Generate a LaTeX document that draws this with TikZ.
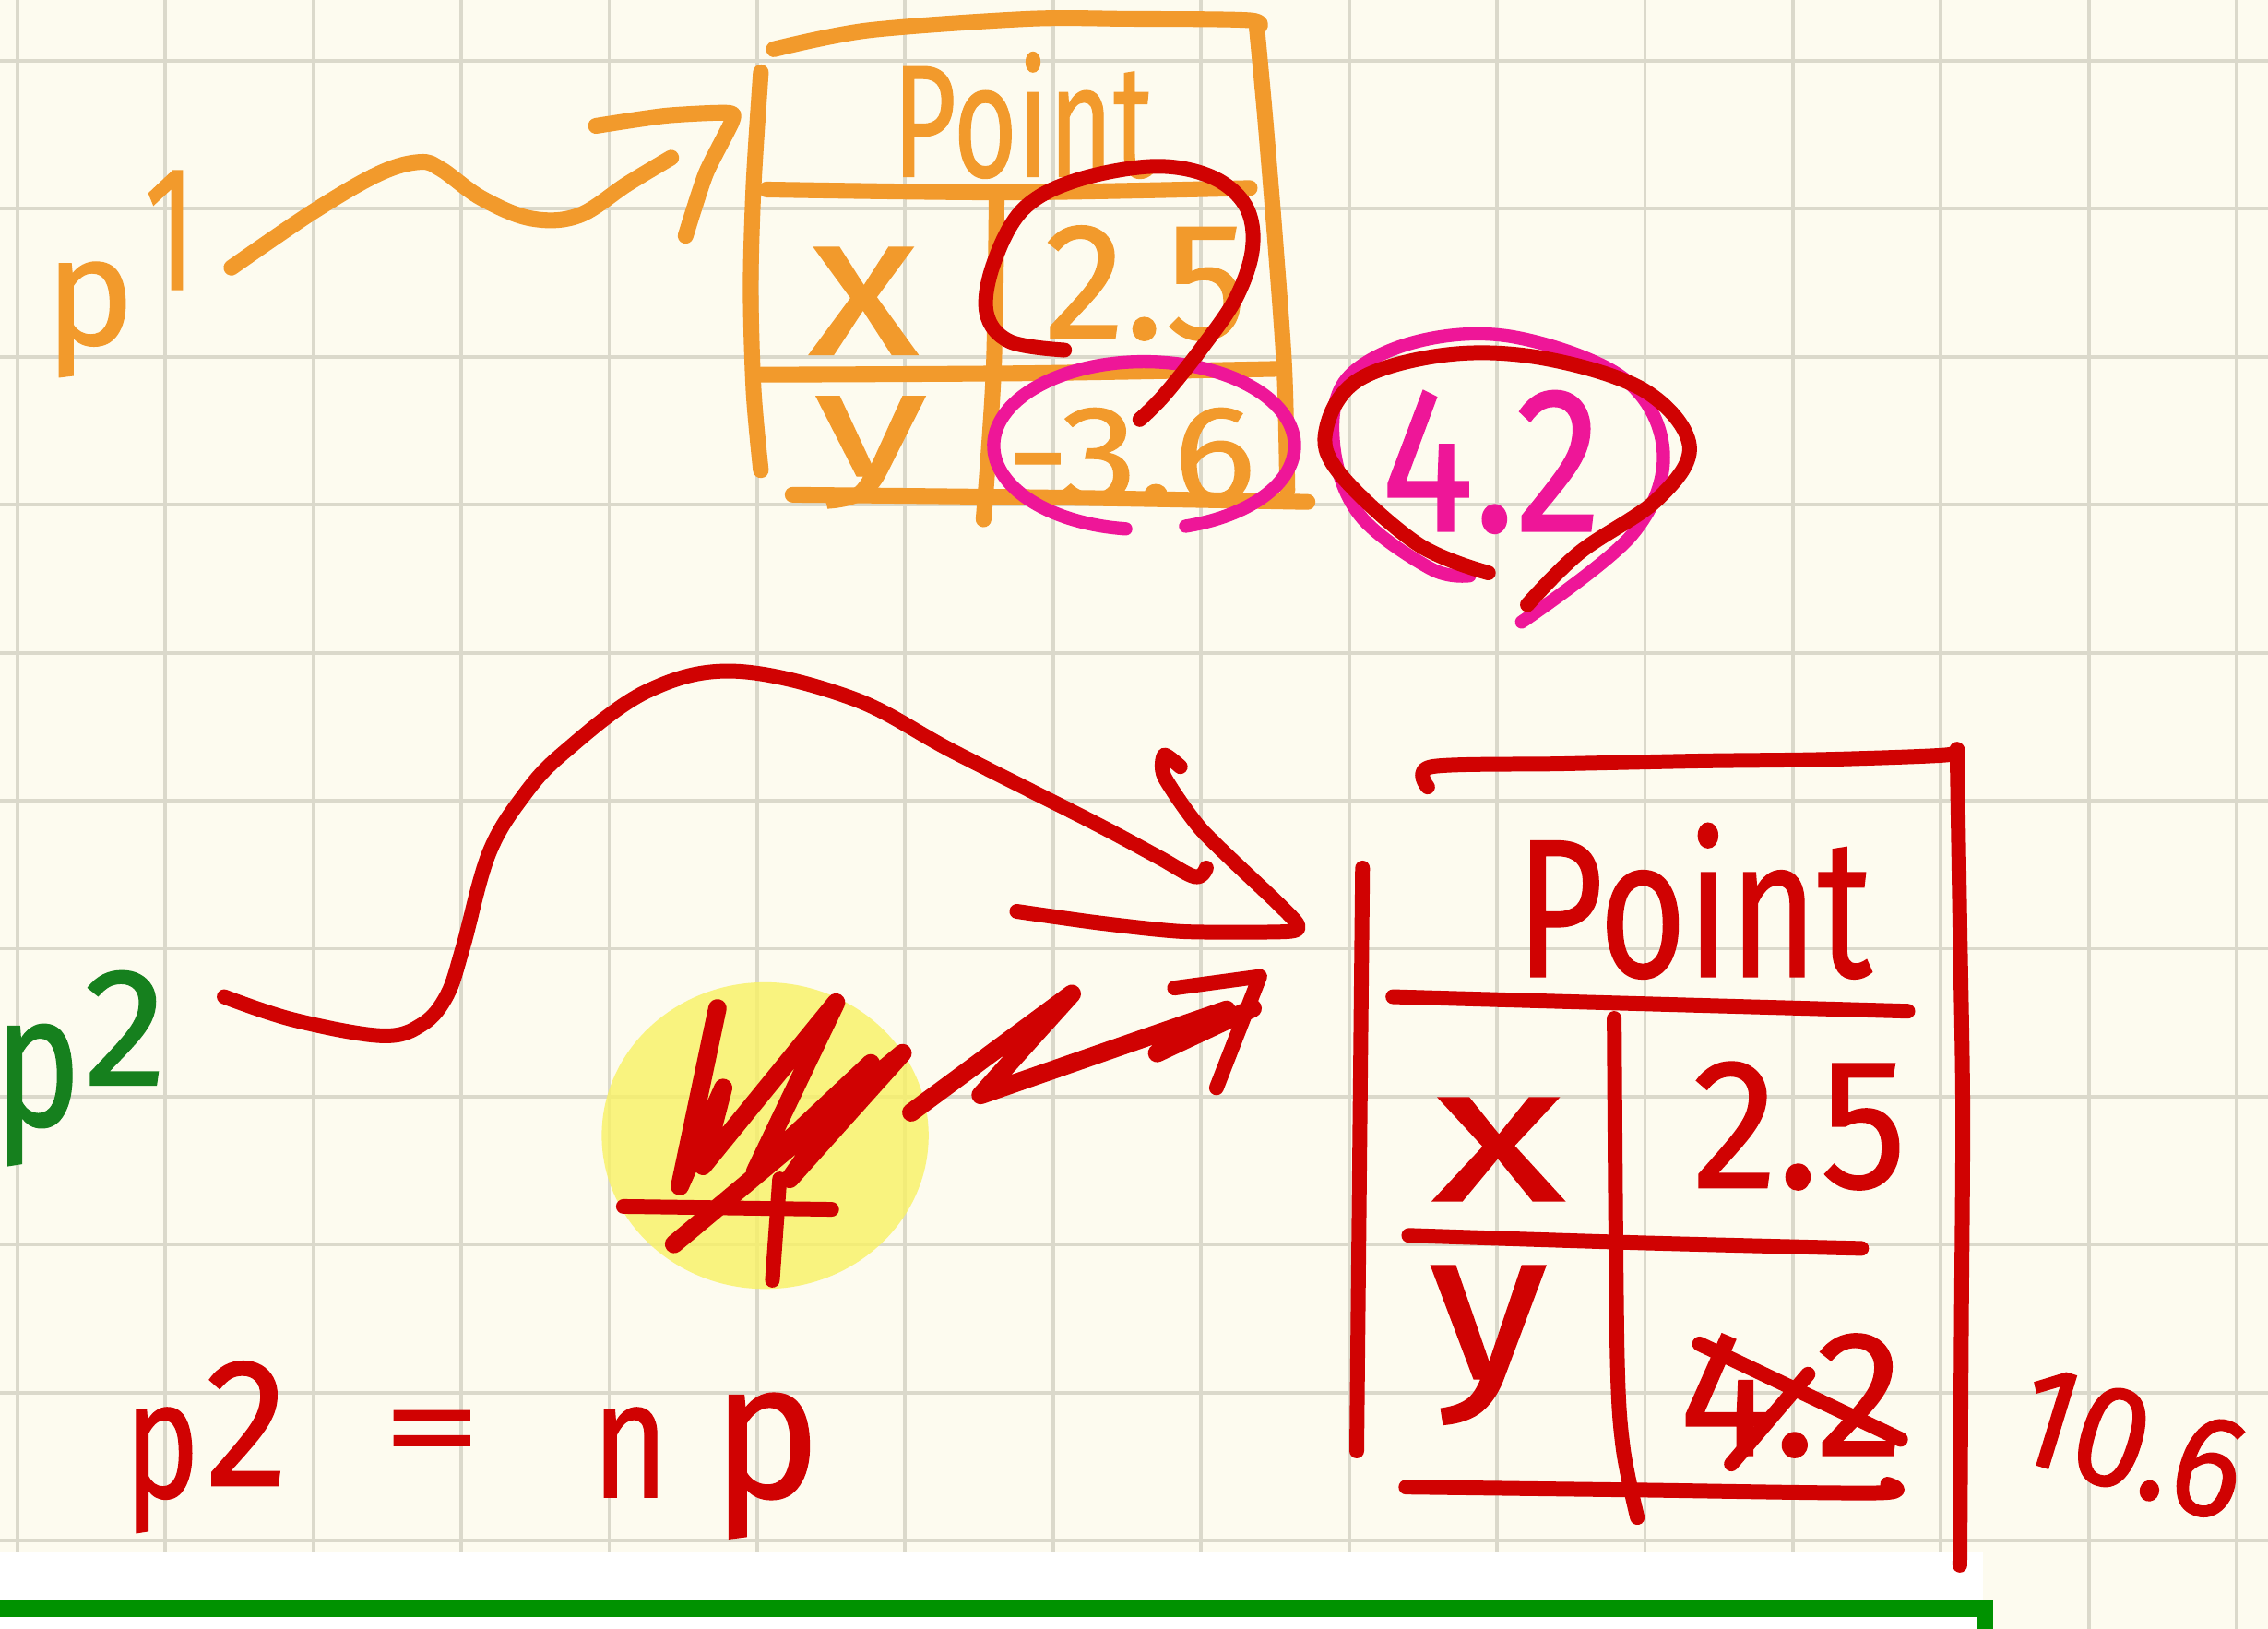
\documentclass[tikz,border=0pt]{standalone}
\usepackage{fontspec}
\setmainfont{Fira Sans}[FakeBold=0.8]
\usepackage{graphicx}
\definecolor{paper}{RGB}{253,251,239}
\definecolor{gridline}{RGB}{219,217,203}
\definecolor{inkorange}{RGB}{242,154,44}
\definecolor{inkred}{RGB}{208,2,2}
\definecolor{inkpink}{RGB}{238,22,152}
\definecolor{inkgreen}{RGB}{22,128,30}
\definecolor{rulegreen}{RGB}{0,146,0}
\definecolor{marker}{RGB}{248,241,100}
\begin{document}
\begin{tikzpicture}[x=0.01cm,y=-0.01cm,
  pen/.style={line cap=round,line join=round},
  orangepen/.style={pen,draw=inkorange,line width=3.1pt},
  redpen/.style={pen,draw=inkred,line width=2.9pt},
  pinkpen/.style={pen,draw=inkpink,line width=2.6pt},
  hand/.style={inner sep=0pt,outer sep=0pt,anchor=north west},
  gridpen/.style={draw=gridline,line width=0.7pt}]
\useasboundingbox (0,0) rectangle (1568,1126);

% paper and squared grid
\fill[paper] (0,0) rectangle (1568,1126);
\foreach \k in {0,...,15} \draw[gridpen] ({12+102.3*\k},0) -- ({12+102.3*\k},1126);
\foreach \k in {0,...,10} \draw[gridpen] (0,{42+102.3*\k}) -- (1568,{42+102.3*\k});

% white strip with the green rule at the bottom
\fill[white] (0,1073) rectangle (1371,1126);
\draw[rulegreen,line width=3.3pt] (0,1112) -- (1372,1112) -- (1372,1130);

% yellow highlighter blob
\fill[marker,opacity=0.8] (529,785) ellipse [x radius=113,y radius=106];

% ---------- first object (orange) ----------
\node[hand,text=inkorange] (p1) at (31,118)
  {\resizebox{0.62cm}{0.57cm}{p}\hspace{0.07cm}\raisebox{0.38cm}{\resizebox{0.35cm}{0.82cm}{1}}};
\coordinate (p1tail) at (160,185);
\coordinate (p1head) at (503,78);
\draw[orangepen] plot[smooth,tension=0.6] coordinates
  {(p1tail) (217,146) (262,120) (290,112) (305,117) (333,137) (367,151) (400,149) (434,127) (464,109)};
\draw[orangepen] plot[smooth,tension=0.4] coordinates
  {(412,87) (460,80) (p1head) (506,84) (488,120) (474,163)};

% box outline
\draw[orangepen] plot[smooth,tension=0.5] coordinates {(535,34) (600,21) (711,13) (779,13) (864,14) (869,20)};
\draw[orangepen] plot[smooth,tension=0.5] coordinates {(869,20) (875,85) (882,171) (888,256) (890,339)};
\draw[orangepen] plot[smooth,tension=0.5] coordinates {(526,50) (521,128) (519,199) (521,270) (526,325)};
\draw[orangepen] plot[smooth,tension=0.5] coordinates {(530,131) (700,133) (864,130)};
\draw[orangepen] plot[smooth,tension=0.5] coordinates {(689,137) (687,256) (680,359)};
\draw[orangepen] plot[smooth,tension=0.5] coordinates {(526,259) (711,258) (882,255)};
\draw[orangepen] plot[smooth,tension=0.5] coordinates {(548,342) (734,344) (904,347)};

\node[hand,text=inkorange] (titleA) at (617,36) {\resizebox{1.80cm}{0.86cm}{Point}};
\node[hand,text=inkorange] (xA) at (559,171) {\resizebox{0.76cm}{0.74cm}{x}};
\node[hand,text=inkorange] (xvalA) at (722,156) {\resizebox{1.40cm}{0.78cm}{2.5}};
\node[hand,text=inkorange] (yA) at (563,274) {\resizebox{0.78cm}{0.55cm}{y}};
\node[hand,text=inkorange] (yvalA) at (696,282) {\resizebox{1.72cm}{0.65cm}{-3.6}};

% pink marks: ring round -3.6, new value 4.2 with its ring
\draw[pinkpen] (791,308) ++(97:104 and 58) arc[start angle=97,end angle=434,x radius=104,y radius=58];
\node[hand,text=inkpink] (newy) at (955,270) {\resizebox{1.52cm}{0.97cm}{4.2}};
\draw[pinkpen] plot[smooth,tension=0.6] coordinates
  {(1052,430) (1128,370) (1150,313) (1123,262) (1047,233) (980,236) (931,262) (922,307) (940,356) (989,393) (1016,398)};

% red loops round 2.5 and 4.2
\draw[redpen] plot[smooth,tension=0.6] coordinates
  {(736,242) (698,236) (682,216) (687,182) (707,145) (743,125) (797,115) (837,122) (861,142) (866,171) (855,205) (832,239) (805,273) (788,290)};
\draw[redpen] plot[smooth,tension=0.6] coordinates
  {(1029,396) (980,376) (926,327) (917,296) (940,262) (1002,245) (1069,248) (1137,270) (1168,308) (1146,345) (1092,382) (1056,418)};

% ---------- second object (red) ----------
\node[hand,text=inkgreen] (p2) at (-4,671)
  {\resizebox{0.60cm}{0.70cm}{p}\hspace{0.02cm}\raisebox{0.28cm}{\resizebox{0.57cm}{0.79cm}{2}}};
\coordinate (p2tail) at (155,689);
\coordinate (p2head) at (897,639);
\draw[redpen] plot[smooth,tension=0.6] coordinates
  {(p2tail) (203,705) (264,716) (292,708) (309,688) (320,655) (338,590) (362,550) (390,520) (447,478) (508,464) (590,483) (660,520) (755,568) (800,592) (826,606) (834,600)};
\draw[redpen] plot[smooth,tension=0.4] coordinates
  {(816,530) (805,522) (805,537) (831,574) (882,623) (p2head) (890,644) (818,644) (760,638) (703,630)};

% crossed-out scribble and its arrow
\draw[redpen,line width=3.6pt] (496,697) -- (470,820) -- (500,752) -- (486,806) -- (578,693) -- (522,810)
  -- (602,735) -- (546,815) -- (624,728) -- (466,860);
\draw[redpen] (431,834) -- (575,836);
\draw[redpen] (539,815) -- (534,885);
\coordinate (scrhead) at (871,675);
\draw[redpen,line width=3.6pt] (630,769) -- (741,687) -- (678,757) -- (790,718) -- (848,698) -- (800,728) -- (866,697);
\draw[redpen] (812,683) -- (scrhead) -- (841,752);

% box outline
\draw[redpen] plot[smooth,tension=0.5] coordinates {(987,544) (990,530) (1080,528) (1177,526) (1260,525) (1344,522) (1353,518)};
\draw[redpen] plot[smooth,tension=0.5] coordinates {(1353,518) (1355,640) (1357,768) (1356,920) (1355,1082)};
\draw[redpen] plot[smooth,tension=0.5] coordinates {(942,600) (940,800) (938,1003)};
\draw[redpen] plot[smooth,tension=0.5] coordinates {(963,689) (1140,694) (1319,699)};
\draw[redpen] plot[smooth,tension=0.5] coordinates {(1116,704) (1118,933) (1122,1000) (1132,1049)};
\draw[redpen] plot[smooth,tension=0.5] coordinates {(974,854) (1130,859) (1287,863)};
\draw[redpen] plot[smooth,tension=0.5] coordinates {(972,1028) (1130,1030) (1299,1032) (1305,1026)};

\node[hand,text=inkred] (titleB) at (1048,569) {\resizebox{2.46cm}{1.06cm}{Point}};
\node[hand,text=inkred] (xB) at (990,759) {\resizebox{0.92cm}{0.71cm}{x}};
\node[hand,text=inkred] (xvalB) at (1170,734) {\resizebox{1.48cm}{0.87cm}{2.5}};
\node[hand,text=inkred] (yB) at (988,875) {\resizebox{0.82cm}{0.78cm}{y}};
\node[hand,text=inkred] (yvalB) at (1161,922) {\resizebox{1.55cm}{0.84cm}{4.2}};
\draw[redpen] (1175,929) -- (1314,995);
\draw[redpen] (1197,1012) -- (1250,950);
\node[inner sep=0pt,text=inkred,rotate=-17] (sumB) at (1474,998) {\resizebox{1.60cm}{0.68cm}{10.6}};

% assignment written underneath
\node[hand,text=inkred] (assign) at (86,941)
  {\resizebox{0.52cm}{0.62cm}{p}\hspace{0.04cm}\raisebox{0.08cm}{\resizebox{0.57cm}{0.86cm}{2}}%
   \hspace{0.65cm}\raisebox{0.18cm}{\resizebox{0.69cm}{0.42cm}{=}}%
   \hspace{0.76cm}\resizebox{0.53cm}{0.62cm}{n}\hspace{0.30cm}\resizebox{0.75cm}{0.72cm}{p}};
\end{tikzpicture}
\end{document}
